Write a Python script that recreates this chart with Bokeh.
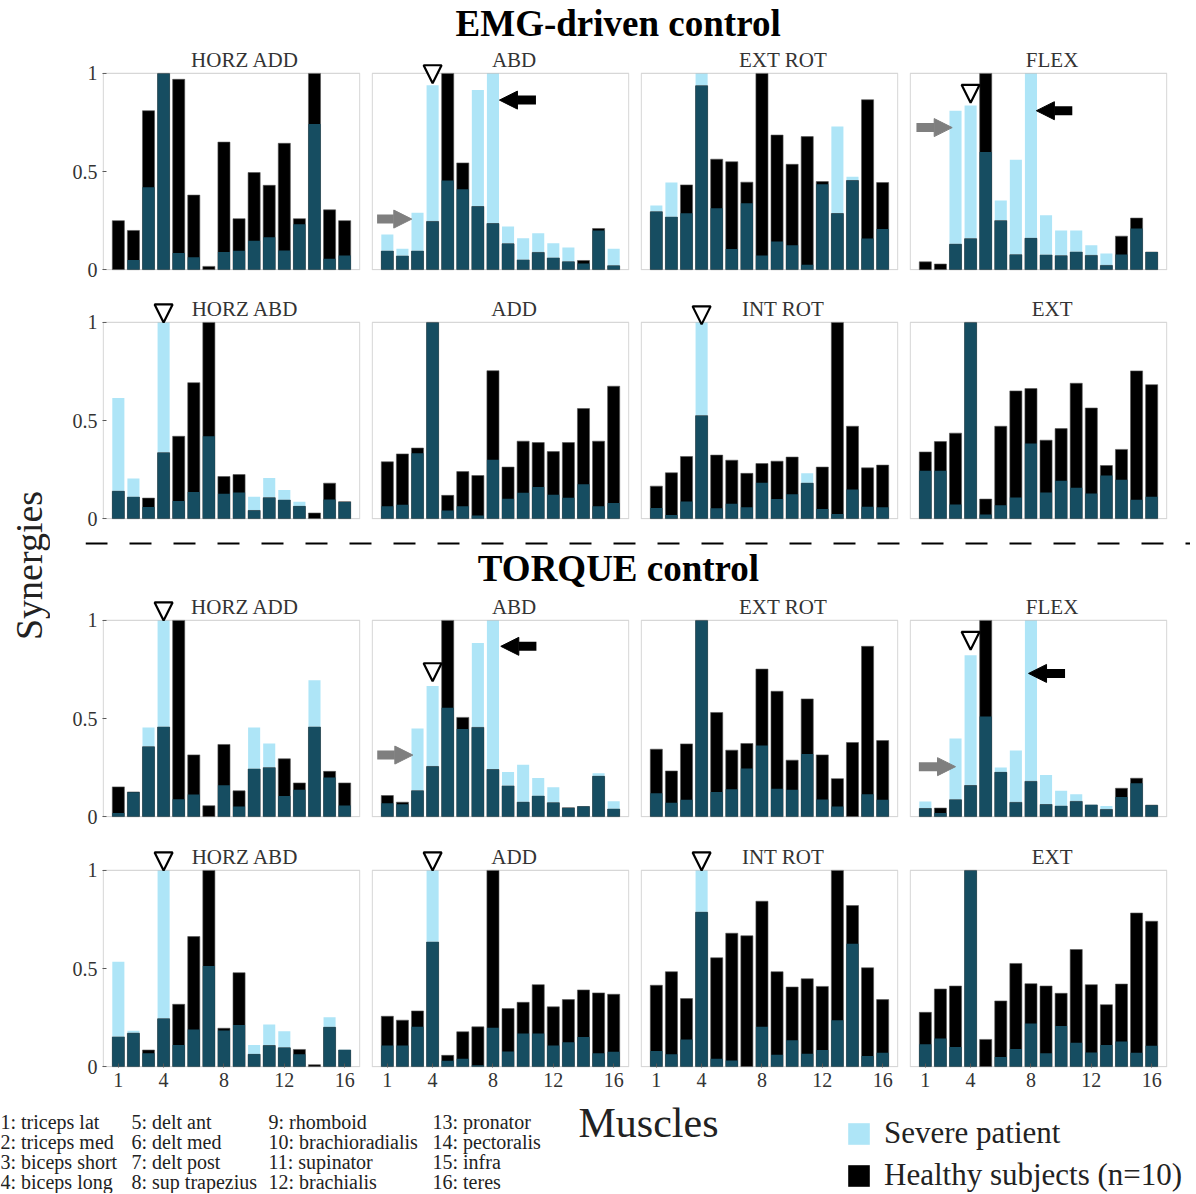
import math
import numpy as np
from bokeh.plotting import figure
from bokeh.layouts import row, column
from bokeh.models import (Range1d, LinearAxis, FixedTicker, Arrow, NormalHead, Label,
                          Span, Legend, LegendItem, ColumnDataSource, BoxAnnotation)
from bokeh.embed import file_html
from bokeh.resources import INLINE

# ---------------- data ----------------
muscle_ids = list(range(1, 17))
muscle_names = ["triceps lat", "triceps med", "biceps short", "biceps long",
                "delt ant", "delt med", "delt post", "sup trapezius",
                "rhomboid", "brachioradialis", "supinator", "brachialis",
                "pronator", "pectoralis", "infra", "teres"]
x_ticks = [1, 4, 8, 12, 16]
y_ticks = [0, 0.5, 1]

panel_titles = ["HORZ ADD", "ABD", "EXT ROT", "FLEX", "HORZ ABD", "ADD", "INT ROT", "EXT"]
section_titles = ["EMG-driven control", "TORQUE control"]
series_names = ["Severe patient", "Healthy subjects (n=10)"]

# EMG-driven control
emg_horz_add_patient = [0.00, 0.05, 0.42, 1.00, 0.085, 0.063, 0.00, 0.09, 0.097, 0.147, 0.166, 0.098, 0.232, 0.742, 0.056, 0.073]
emg_horz_add_healthy = [0.25, 0.20, 0.81, 1.00, 0.97, 0.38, 0.017, 0.65, 0.26, 0.495, 0.43, 0.644, 0.26, 1.00, 0.305, 0.25]
emg_abd_patient = [0.18, 0.107, 0.29, 0.94, 0.454, 0.41, 0.915, 1.00, 0.22, 0.16, 0.186, 0.135, 0.113, 0.032, 0.20, 0.107]
emg_abd_healthy = [0.095, 0.07, 0.095, 0.246, 1.00, 0.544, 0.322, 0.235, 0.132, 0.05, 0.088, 0.06, 0.04, 0.047, 0.21, 0.02]
emg_ext_rot_patient = [0.327, 0.444, 0.288, 1.00, 0.313, 0.105, 0.339, 0.073, 0.144, 0.125, 0.025, 0.436, 0.729, 0.473, 0.159, 0.207]
emg_ext_rot_healthy = [0.295, 0.268, 0.432, 0.937, 0.563, 0.55, 0.446, 1.00, 0.686, 0.537, 0.678, 0.449, 0.286, 0.454, 0.866, 0.444]
emg_flex_patient = [0.0, 0.0, 0.81, 0.837, 0.60, 0.353, 0.56, 1.00, 0.278, 0.20, 0.20, 0.125, 0.083, 0.078, 0.21, 0.09]
emg_flex_healthy = [0.04, 0.029, 0.13, 0.158, 1.00, 0.25, 0.076, 0.16, 0.075, 0.071, 0.09, 0.073, 0.022, 0.171, 0.263, 0.09]
emg_horz_abd_patient = [0.615, 0.205, 0.06, 1.00, 0.09, 0.136, 0.42, 0.127, 0.134, 0.112, 0.208, 0.146, 0.086, 0.0, 0.098, 0.085]
emg_horz_abd_healthy = [0.14, 0.11, 0.105, 0.336, 0.42, 0.693, 1.00, 0.215, 0.225, 0.042, 0.107, 0.095, 0.063, 0.029, 0.181, 0.087]
emg_add_patient = [0.063, 0.071, 0.334, 1.00, 0.042, 0.064, 0.017, 0.30, 0.102, 0.132, 0.161, 0.122, 0.107, 0.176, 0.063, 0.08]
emg_add_healthy = [0.29, 0.33, 0.36, 1.00, 0.119, 0.24, 0.22, 0.754, 0.263, 0.395, 0.388, 0.342, 0.388, 0.561, 0.395, 0.675]
emg_int_rot_patient = [0.054, 0.019, 0.088, 1.00, 0.053, 0.076, 0.059, 0.183, 0.10, 0.125, 0.231, 0.049, 0.024, 0.149, 0.061, 0.059]
emg_int_rot_healthy = [0.166, 0.234, 0.317, 0.525, 0.324, 0.298, 0.231, 0.281, 0.293, 0.314, 0.181, 0.263, 1.00, 0.471, 0.259, 0.273]
emg_ext_patient = [0.244, 0.244, 0.073, 1.00, 0.022, 0.069, 0.108, 0.383, 0.134, 0.193, 0.158, 0.129, 0.22, 0.198, 0.097, 0.112]
emg_ext_healthy = [0.34, 0.393, 0.436, 1.00, 0.10, 0.471, 0.651, 0.663, 0.40, 0.459, 0.69, 0.564, 0.271, 0.353, 0.753, 0.683]

# TORQUE control
torque_horz_add_patient = [0.019, 0.124, 0.455, 1.00, 0.089, 0.113, 0.0, 0.16, 0.052, 0.455, 0.373, 0.105, 0.138, 0.695, 0.20, 0.057]
torque_horz_add_healthy = [0.152, 0.126, 0.356, 0.457, 1.00, 0.315, 0.056, 0.368, 0.132, 0.243, 0.25, 0.295, 0.172, 0.457, 0.231, 0.172]
torque_abd_patient = [0.069, 0.064, 0.45, 0.666, 0.555, 0.447, 0.885, 1.00, 0.228, 0.265, 0.197, 0.15, 0.044, 0.055, 0.221, 0.079]
torque_abd_healthy = [0.108, 0.074, 0.132, 0.256, 1.00, 0.506, 0.455, 0.24, 0.157, 0.074, 0.105, 0.071, 0.046, 0.052, 0.206, 0.039]
torque_ext_rot_patient = [0.12, 0.071, 0.086, 1.00, 0.126, 0.14, 0.246, 0.363, 0.143, 0.137, 0.32, 0.088, 0.052, 0.0, 0.115, 0.086]
torque_ext_rot_healthy = [0.344, 0.233, 0.371, 1.00, 0.531, 0.339, 0.373, 0.752, 0.639, 0.288, 0.60, 0.315, 0.194, 0.378, 0.868, 0.388]
torque_flex_patient = [0.078, 0.019, 0.398, 0.823, 0.511, 0.251, 0.337, 1.00, 0.212, 0.132, 0.115, 0.062, 0.054, 0.101, 0.17, 0.059]
torque_flex_healthy = [0.042, 0.044, 0.086, 0.159, 1.00, 0.226, 0.073, 0.18, 0.062, 0.054, 0.078, 0.06, 0.037, 0.145, 0.196, 0.059]
torque_horz_abd_patient = [0.535, 0.183, 0.068, 1.00, 0.11, 0.19, 0.513, 0.184, 0.213, 0.11, 0.215, 0.181, 0.063, 0.0, 0.252, 0.088]
torque_horz_abd_healthy = [0.152, 0.171, 0.085, 0.244, 0.318, 0.663, 1.00, 0.196, 0.479, 0.063, 0.108, 0.096, 0.088, 0.01, 0.201, 0.085]
torque_add_patient = [0.108, 0.108, 0.203, 1.00, 0.03, 0.041, 0.007, 0.198, 0.078, 0.169, 0.169, 0.108, 0.125, 0.151, 0.069, 0.076]
torque_add_healthy = [0.257, 0.237, 0.284, 0.635, 0.058, 0.178, 0.203, 1.00, 0.296, 0.328, 0.418, 0.305, 0.342, 0.391, 0.376, 0.369]
torque_int_rot_patient = [0.08, 0.063, 0.139, 1.00, 0.041, 0.032, 0.0, 0.203, 0.061, 0.135, 0.066, 0.085, 0.237, 0.626, 0.054, 0.071]
torque_int_rot_healthy = [0.415, 0.484, 0.347, 0.787, 0.555, 0.68, 0.667, 0.843, 0.484, 0.406, 0.448, 0.409, 1.00, 0.821, 0.504, 0.342]
torque_ext_patient = [0.115, 0.144, 0.10, 1.00, 0.0, 0.049, 0.09, 0.22, 0.068, 0.208, 0.122, 0.073, 0.11, 0.129, 0.071, 0.107]
torque_ext_healthy = [0.277, 0.396, 0.411, 1.00, 0.139, 0.335, 0.526, 0.423, 0.411, 0.374, 0.597, 0.418, 0.316, 0.421, 0.783, 0.741]

# markers: panel index -> tip height of the open triangle above muscle 4
triangle_muscle = 4
triangle_tips = {1: 0.95, 3: 0.85, 4: 1.0, 6: 0.99, 8: 1.0, 9: 0.69, 11: 0.85, 12: 1.0, 13: 1.0, 14: 1.0}
# arrows: panel index -> (x_tail, x_tip, y)
black_arrows = {1: (10.85, 8.43, 0.864), 3: (10.74, 8.36, 0.81), 9: (10.88, 8.52, 0.868), 11: (10.26, 7.84, 0.73)}
gray_arrows = {1: (0.32, 2.62, 0.258), 3: (0.41, 2.78, 0.724), 9: (0.33, 2.69, 0.314), 11: (0.57, 3.0, 0.255)}

panels = [
    (emg_horz_add_patient, emg_horz_add_healthy), (emg_abd_patient, emg_abd_healthy),
    (emg_ext_rot_patient, emg_ext_rot_healthy), (emg_flex_patient, emg_flex_healthy),
    (emg_horz_abd_patient, emg_horz_abd_healthy), (emg_add_patient, emg_add_healthy),
    (emg_int_rot_patient, emg_int_rot_healthy), (emg_ext_patient, emg_ext_healthy),
    (torque_horz_add_patient, torque_horz_add_healthy), (torque_abd_patient, torque_abd_healthy),
    (torque_ext_rot_patient, torque_ext_rot_healthy), (torque_flex_patient, torque_flex_healthy),
    (torque_horz_abd_patient, torque_horz_abd_healthy), (torque_add_patient, torque_add_healthy),
    (torque_int_rot_patient, torque_int_rot_healthy), (torque_ext_patient, torque_ext_healthy),
]

# ---------------- style ----------------
BLUE = "#aee5f7"
TEAL = "#164d61"
SERIF = "Liberation Serif"
TXT = "#222222"

FRAME_H = 221                 # 0..1 occupies 197 px, the rest holds title + markers
Y_TOP = FRAME_H / 197.0
ROW_BOT = [28, 11, 29, 30]


def style_axis(ax):
    ax.axis_line_color = None
    ax.major_tick_in = 4
    ax.major_tick_out = 0
    ax.major_tick_line_color = "#555555"
    ax.minor_tick_line_color = None
    ax.major_label_text_font = SERIF
    ax.major_label_text_font_size = "20px"
    ax.major_label_text_color = "#333333"
    ax.major_label_standoff = 5


def make_panel(idx):
    r, c = divmod(idx, 4)
    rr = r % 2
    patient, healthy = panels[idx]
    p = figure(width=314 if c == 0 else 269, height=FRAME_H + ROW_BOT[r],
               x_range=Range1d(-0.05, 17.05), y_range=Range1d(-0.004, Y_TOP),
               x_axis_type=None, y_axis_type=None,
               min_border_left=52 if c == 0 else 7, min_border_right=4,
               min_border_top=0, min_border_bottom=ROW_BOT[r],
               output_backend="svg", toolbar_location=None)
    p.outline_line_color = None
    p.background_fill_color = "white"
    p.border_fill_color = "white"

    if r == 3:
        xb = LinearAxis(ticker=FixedTicker(ticks=x_ticks))
        style_axis(xb)
        p.add_layout(xb, "below")
    if c == 0:
        yl = LinearAxis(ticker=FixedTicker(ticks=y_ticks), bounds=(0, 1))
        style_axis(yl)
        p.add_layout(yl, "left")

    src = ColumnDataSource(dict(x=muscle_ids, pat=patient, hea=healthy,
                                both=list(np.minimum(patient, healthy))))
    p.vbar(x="x", top="pat", width=0.8, source=src, fill_color=BLUE, line_color=None)
    p.vbar(x="x", top="hea", width=0.8, source=src, fill_color="black",
           line_color="#555555", line_width=0.6)
    p.vbar(x="x", top="both", width=0.8, source=src, fill_color=TEAL, line_color=None)

    # axes box (0..17 x 0..1)
    p.add_layout(BoxAnnotation(left=0, right=17, bottom=0, top=1, fill_color=None,
                               line_color="#7a7a7a", line_width=1.2))
    p.add_layout(Label(x=9.4, y=1.068, text=panel_titles[rr * 4 + c], text_align="center",
                       text_baseline="middle", text_font=SERIF, text_font_size="21px",
                       text_color="#333333"))

    if idx in triangle_tips:
        tip = triangle_tips[idx]
        p.add_layout(Arrow(end=NormalHead(size=18, fill_color="white", line_color="black",
                                          line_width=2.2),
                           x_start=triangle_muscle, y_start=tip + 0.25,
                           x_end=triangle_muscle, y_end=tip, line_alpha=0))
    if idx in black_arrows:
        x0, x1, y = black_arrows[idx]
        p.add_layout(Arrow(end=NormalHead(size=18, fill_color="black", line_color="black"),
                           x_start=x0, y_start=y, x_end=x1, y_end=y,
                           line_color="black", line_width=9))
    if idx in gray_arrows:
        x0, x1, y = gray_arrows[idx]
        p.add_layout(Arrow(end=NormalHead(size=18, fill_color="#7f7f7f", line_color="#7f7f7f"),
                           x_start=x0, y_start=y, x_end=x1, y_end=y,
                           line_color="#7f7f7f", line_width=9))
    return p


def blank(w, h, **kw):
    f = figure(width=w, height=h, x_range=Range1d(0, w), y_range=Range1d(0, h),
               x_axis_type=None, y_axis_type=None, min_border=0,
               outline_line_color=None, output_backend="svg", toolbar_location=None, **kw)
    f.background_fill_color = "white"
    f.border_fill_color = "white"
    return f


MAIN_W = 314 + 3 * 269

figs = [make_panel(i) for i in range(16)]

T1_H, SEP_H, T2_H = 49, 18, 48
title1 = blank(MAIN_W, T1_H)
title1.add_layout(Label(x=382, y=26, text=section_titles[0], text_align="left",
                        text_baseline="middle", text_font=SERIF, text_font_size="37px",
                        text_font_style="bold", text_color="black", text_line_height=1.0))
title2 = blank(MAIN_W, T2_H)
title2.add_layout(Label(x=405, y=28, text=section_titles[1], text_align="left",
                        text_baseline="middle", text_font=SERIF, text_font_size="37px",
                        text_font_style="bold", text_color="black", text_line_height=1.0))

sep = figure(width=1140, height=SEP_H, x_range=Range1d(0, 1), y_range=Range1d(0, SEP_H),
             x_axis_type=None, y_axis_type=None, min_border=0, min_border_left=35,
             outline_line_color=None, output_backend="svg", toolbar_location=None)
sep.add_layout(Span(location=5, dimension="width", line_color="black", line_width=2,
                    line_dash="22 22"))

TOP_H = T1_H + (FRAME_H + ROW_BOT[0]) + (FRAME_H + ROW_BOT[1]) + SEP_H + T2_H + \
    (FRAME_H + ROW_BOT[2]) + (FRAME_H + ROW_BOT[3])
syn = blank(50, TOP_H)
syn.add_layout(Label(x=28, y=TOP_H - 565, text="Synergies", angle=math.pi / 2,
                     text_align="center", text_baseline="middle", text_font=SERIF,
                     text_font_size="38px", text_color=TXT))

main = column(title1, row(*figs[0:4]), row(*figs[4:8]), sep, title2,
              row(*figs[8:12]), row(*figs[12:16]))
top = row(syn, main)

BOT_H = 96
bot = blank(1194, BOT_H)
col_x = [0, 131, 268, 432]
for i, name in enumerate(muscle_names):
    cc, rr = divmod(i, 4)
    bot.add_layout(Label(x=col_x[cc], y=BOT_H - (24 + 20 * rr), text=f"{i + 1}: {name}",
                         text_baseline="middle", text_font=SERIF, text_font_size="20px",
                         text_color=TXT, text_line_height=1.0))
bot.add_layout(Label(x=648, y=BOT_H - 25, text="Muscles", text_align="center",
                     text_baseline="middle", text_font=SERIF, text_font_size="42px",
                     text_color=TXT))
# legend swatches: bar renderers of the real series, drawn on an off-screen range
bot.extra_y_ranges = {"offscreen": Range1d(10, 11)}
r1 = bot.vbar(x=muscle_ids, top=emg_horz_add_patient, width=0.8, fill_color=BLUE,
              line_color=None, y_range_name="offscreen")
r2 = bot.vbar(x=muscle_ids, top=emg_horz_add_healthy, width=0.8, fill_color="black",
              line_color=None, y_range_name="offscreen")
leg = Legend(items=[LegendItem(label=series_names[0], renderers=[r1]),
                    LegendItem(label=series_names[1], renderers=[r2])],
             location=(845, 0), padding=0, margin=0, spacing=6,
             glyph_width=27, glyph_height=27, label_standoff=12,
             label_text_font=SERIF, label_text_font_size="31px", label_text_color=TXT,
             border_line_color=None, background_fill_alpha=0)
bot.add_layout(leg)

layout = column(top, bot)

open("out.html", "w").write(file_html(layout, INLINE))
